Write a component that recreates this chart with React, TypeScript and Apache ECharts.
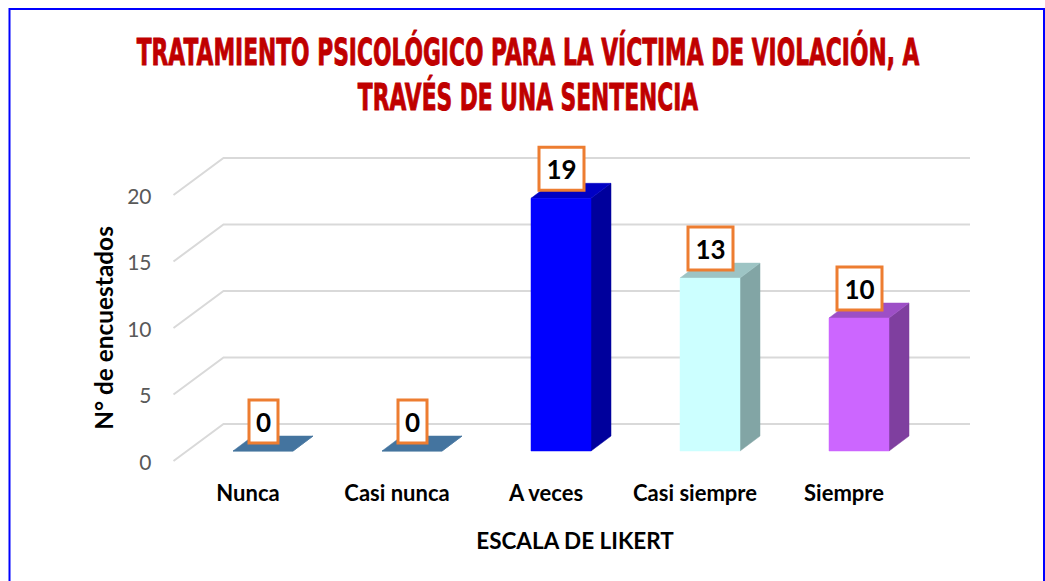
import React, { useEffect, useRef } from "react";
import * as echarts from "echarts";

const categories = ["Nunca", "Casi nunca", "A veces", "Casi siempre", "Siempre"];
const respondents = [0, 0, 19, 13, 10];
const wallTicks = [0, 5, 10, 15, 20];
const titleLines = [
  "TRATAMIENTO PSICOLÓGICO PARA LA VÍCTIMA DE VIOLACIÓN, A",
  "TRAVÉS DE UNA SENTENCIA",
];
const xAxisTitle = "ESCALA DE LIKERT";
const yAxisTitle = "N° de encuestados";

const faces = [
  { front: "#44749f", side: "#44749f", top: "#44749f" },
  { front: "#44749f", side: "#44749f", top: "#44749f" },
  { front: "#0000ff", side: "#00009c", top: "#0000c4" },
  { front: "#ccffff", side: "#82a5a5", top: "#9dc4c4" },
  { front: "#cc66ff", side: "#7f3f9f", top: "#9d4fc6" },
];

const FONT = "Lato, Carlito, 'Open Sans', sans-serif";
const WALL_DX = 50;
const WALL_DY = 37;
const BAR_W = 60;
const BAR_DX = 20;
const BAR_DY = 15;
const BAR_SHIFT_X = 15;
const BAR_SHIFT_Y = 10;

export default function App() {
  const ref = useRef<HTMLDivElement>(null);
  useEffect(() => {
    document.body.style.margin = "0";
    const chart = echarts.init(ref.current!, null, { renderer: "svg" });
    chart.setOption({
      animation: false,
      backgroundColor: "#ffffff",
      grid: { left: 173.5, top: 195, width: 745, height: 266, containLabel: false },
      graphic: [
        {
          type: "rect",
          z: 0,
          shape: { x: 9.5, y: 9, width: 1034.5, height: 600 },
          style: { fill: "none", stroke: "#0000ff", lineWidth: 2 },
        },
        ...titleLines.map((line, i) => ({
          type: "text",
          x: 528,
          y: 52 + i * 45,
          scaleX: 0.573,
          style: {
            text: line,
            align: "center",
            verticalAlign: "middle",
            fill: "#c00000",
            stroke: "#c00000",
            lineWidth: 1,
            fontFamily: "'DejaVu Sans', sans-serif",
            fontWeight: "bold",
            fontSize: 38,
          },
        })),
      ],
      xAxis: {
        type: "category",
        data: categories,
        axisLine: { show: false },
        axisTick: { show: false },
        axisLabel: { interval: 0, hideOverlap: false, margin: 20, color: "#000000", fontFamily: FONT, fontWeight: "bold", fontSize: 22 },
        name: xAxisTitle,
        nameLocation: "middle",
        nameGap: 68,
        nameTextStyle: {
          color: "#000000",
          fontFamily: FONT,
          fontWeight: "bold",
          fontSize: 22.5,
          padding: [0, 0, 0, 58],
        },
      },
      yAxis: {
        type: "value",
        min: 0,
        max: 20,
        interval: 5,
        axisLine: { show: false },
        axisTick: { show: false },
        splitLine: { show: false },
        axisLabel: { margin: 22, color: "#595959", fontFamily: FONT, fontSize: 21, padding: [3, 0, 0, 0] },
        name: yAxisTitle,
        nameLocation: "middle",
        nameGap: 58,
        nameRotate: 90,
        nameTextStyle: { color: "#000000", fontFamily: FONT, fontWeight: "bold", fontSize: 24.4 },
      },
      series: [
        {
          type: "custom",
          silent: true,
          z: 1,
          data: wallTicks.map((v) => [0, v]),
          renderItem: (params: any, api: any) => {
            const y = api.coord([0, api.value(1)])[1];
            const x0 = params.coordSys.x;
            const x1 = x0 + params.coordSys.width + WALL_DX + 1.5;
            return {
              type: "polyline",
              shape: { points: [[x0, y], [x0 + WALL_DX, y - WALL_DY], [x1, y - WALL_DY]] },
              style: { fill: "none", stroke: "#d9d9d9", lineWidth: 2 },
            };
          },
        },
        {
          type: "custom",
          silent: true,
          z: 2,
          data: respondents.map((v, i) => [i, v]),
          renderItem: (params: any, api: any) => {
            const i = api.value(0);
            const left = api.coord([i, 0])[0] + BAR_SHIFT_X - BAR_W / 2;
            const right = left + BAR_W;
            const bottom = api.coord([i, 0])[1] - BAR_SHIFT_Y;
            const top = api.coord([i, api.value(1)])[1] - BAR_SHIFT_Y;
            const c = faces[i];
            const poly = (points: number[][], fill: string) => ({
              type: "polygon",
              shape: { points },
              style: { fill, stroke: fill, lineWidth: 0.5 },
            });
            return {
              type: "group",
              children: [
                poly([[right, bottom], [right + BAR_DX, bottom - BAR_DY], [right + BAR_DX, top - BAR_DY], [right, top]], c.side),
                poly([[left, top], [right, top], [right + BAR_DX, top - BAR_DY], [left + BAR_DX, top - BAR_DY]], c.top),
                poly([[left, bottom], [right, bottom], [right, top], [left, top]], c.front),
              ],
            };
          },
        },
        {
          type: "custom",
          silent: true,
          z: 3,
          data: respondents.map((v, i) => [i, v]),
          renderItem: (params: any, api: any) => {
            const i = api.value(0);
            const v = api.value(1);
            const cx = api.coord([i, 0])[0] + BAR_SHIFT_X + 0.5;
            const top = api.coord([i, v])[1] - BAR_SHIFT_Y;
            const label = String(v);
            const w = label.length > 1 ? 45 : 29;
            const h = 43;
            const yBox = top - 8 - h;
            return {
              type: "group",
              children: [
                {
                  type: "rect",
                  shape: { x: cx - w / 2, y: yBox, width: w, height: h },
                  style: { fill: "#ffffff", stroke: "#ed7d31", lineWidth: 3 },
                },
                {
                  type: "text",
                  style: {
                    text: label,
                    x: cx,
                    y: yBox + h / 2,
                    align: "center",
                    verticalAlign: "middle",
                    fill: "#000000",
                    fontFamily: FONT,
                    fontWeight: "bold",
                    fontSize: 26,
                  },
                },
              ],
            };
          },
        },
      ],
    });
    return () => chart.dispose();
  }, []);
  return <div ref={ref} style={{ width: 1045, height: 581 }} />;
}
